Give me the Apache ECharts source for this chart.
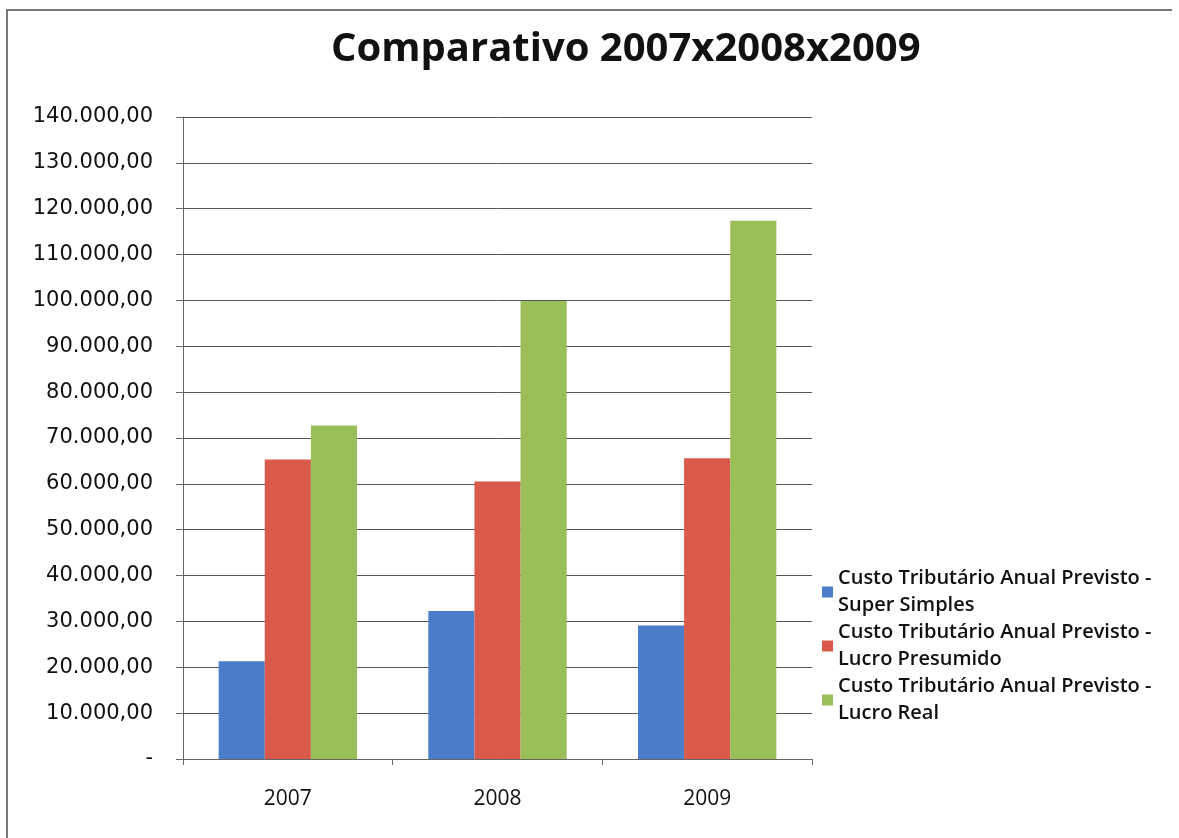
<!DOCTYPE html>
<html>
<head>
<meta charset="utf-8">
<title>Comparativo 2007x2008x2009</title>
<script src="https://cdn.jsdelivr.net/npm/echarts@6/dist/echarts.min.js"></script>
<style>
  html, body { margin: 0; padding: 0; background: #fff; }
  #chart { width: 1179px; height: 838px; }
</style>
</head>
<body>
<div id="chart"></div>
<script>
// anos
const years = ['2007', '2008', '2009']

// custo tributario anual previsto, por regime
const superSimples = [21300, 32300, 29100]
const lucroPresumido = [65300, 60500, 65600]
const lucroReal = [72700, 99900, 117400]

const seriesNames = [
    'Custo Tributário Anual Previsto -\nSuper Simples',
    'Custo Tributário Anual Previsto -\nLucro Presumido',
    'Custo Tributário Anual Previsto -\nLucro Real'
]

const colors = ['#4a7dca', '#d95a4b', '#9bbf58']

// 140.000,00 style labels, zero shown as "-"
const fmt = v => {
    if (v === 0) return '-'
    const int = Math.round(v).toString().replace(/\B(?=(\d{3})+(?!\d))/g, '.')
    return int + ',00'
}

const chart = echarts.init(document.getElementById('chart'))

const option = {
    backgroundColor: '#fff',
    animation: false,
    color: colors,
    title: {
        text: 'Comparativo 2007x2008x2009',
        left: 326,
        top: 25,
        textStyle: {
            fontFamily: 'Open Sans',
            fontSize: 40,
            fontWeight: 'bold',
            color: '#111'
        }
    },
    grid: {
        left: 183,
        right: 367,
        top: 117,
        bottom: 79,
        containLabel: false
    },
    legend: {
        orient: 'vertical',
        left: 817,
        top: 560,
        itemWidth: 11,
        itemHeight: 11,
        itemGap: 0,
        icon: 'rect',
        textStyle: {
            fontFamily: 'Open Sans',
            fontSize: 20,
            fontWeight: 600,
            lineHeight: 27,
            color: '#111'
        },
        data: seriesNames
    },
    xAxis: {
        type: 'category',
        data: years,
        axisLine: { lineStyle: { color: '#666', width: 1 } },
        axisTick: { show: true, length: 6, lineStyle: { color: '#666' } },
        axisLabel: {
            margin: 30,
            fontFamily: 'Open Sans',
            fontSize: 21,
            color: '#111'
        }
    },
    yAxis: {
        type: 'value',
        min: 0,
        max: 140000,
        interval: 10000,
        axisLine: { show: true, lineStyle: { color: '#666', width: 1 } },
        axisTick: { show: true, length: 7, lineStyle: { color: '#666' } },
        splitLine: { lineStyle: { color: '#555', width: 1 } },
        axisLabel: {
            margin: 30,
            fontFamily: 'DejaVu Sans',
            fontSize: 21,
            color: '#111',
            formatter: fmt
        }
    },
    series: [
        { name: seriesNames[0], type: 'bar', data: superSimples, barCategoryGap: '34%', barGap: '0%' },
        { name: seriesNames[1], type: 'bar', data: lucroPresumido, barGap: '0%' },
        { name: seriesNames[2], type: 'bar', data: lucroReal, barGap: '0%' }
    ],
    graphic: [
        {
            type: 'polyline',
            shape: { points: [[7, 838], [7, 10], [1172, 10]] },
            style: { stroke: '#777', lineWidth: 2, fill: null }
        }
    ]
}

chart.setOption(option)
</script>
</body>
</html>
